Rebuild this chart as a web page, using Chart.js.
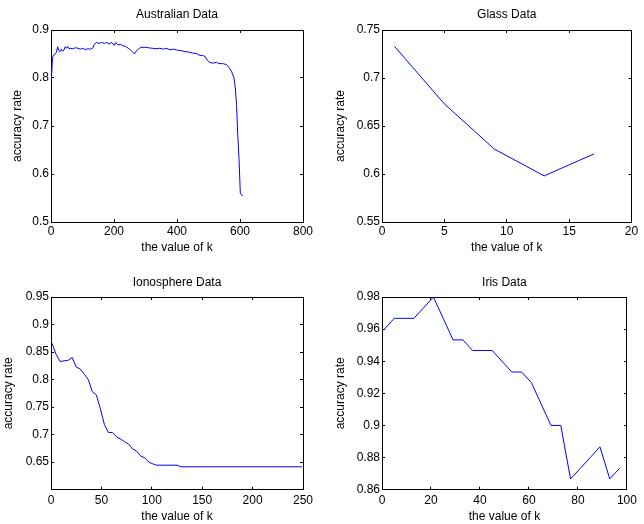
<!DOCTYPE html>
<html>
<head>
<meta charset="utf-8">
<script src="https://cdn.jsdelivr.net/npm/chart.js@4/dist/chart.umd.min.js"></script>
<style>
  html, body { margin: 0; padding: 0; background: #fff; }
  body { position: relative; width: 644px; height: 524px; overflow: hidden; }
  canvas { position: absolute; }
</style>
</head>
<body>
<canvas id="australian" width="322" height="262" style="left:0;top:0"></canvas>
<canvas id="glass" width="322" height="262" style="left:322px;top:0"></canvas>
<canvas id="ionosphere" width="322" height="262" style="left:0;top:262px"></canvas>
<canvas id="iris" width="322" height="262" style="left:322px;top:262px"></canvas>
<script>
// values
const australianK = [1, 5, 9, 13, 17, 21, 25, 29, 33, 37, 41, 45, 49, 53, 57, 61, 69, 77, 85, 93,
  101, 109, 117, 125, 133, 137, 145, 153, 161, 169, 177, 185, 193, 201, 205, 213, 221, 229, 237, 245,
  253, 261, 265, 269, 277, 285, 297, 309, 321, 333, 345, 357, 365, 377, 389, 401, 413, 425, 437, 449,
  461, 473, 481, 489, 497, 505, 517, 525, 533, 545, 557, 565, 573, 581, 585, 589, 593, 597, 601, 605, 609];
const australianAcc = [0.796, 0.843, 0.848, 0.850, 0.853, 0.865, 0.857, 0.855, 0.860, 0.856, 0.858, 0.865, 0.862, 0.866, 0.861, 0.862, 0.861, 0.863, 0.862, 0.860,
  0.862, 0.859, 0.861, 0.860, 0.863, 0.870, 0.874, 0.872, 0.874, 0.872, 0.874, 0.871, 0.874, 0.868, 0.874, 0.869, 0.870, 0.867, 0.866, 0.862,
  0.858, 0.853, 0.850, 0.855, 0.860, 0.864, 0.864, 0.863, 0.862, 0.861, 0.862, 0.860, 0.862, 0.859, 0.860, 0.858, 0.857, 0.855, 0.854, 0.852,
  0.851, 0.847, 0.847, 0.845, 0.836, 0.832, 0.831, 0.833, 0.830, 0.830, 0.828, 0.822, 0.814, 0.800, 0.780, 0.745, 0.680, 0.630, 0.560, 0.556, 0.555];

const glassK = [1, 5, 9, 13, 17];
const glassAcc = [0.733, 0.673, 0.626, 0.598, 0.621];

const ionosphereK = [1, 5, 9, 13, 17, 21, 25, 29, 33, 37, 41, 45, 49, 53, 57, 61, 65, 69, 73, 77,
  81, 85, 89, 93, 97, 101, 105, 109, 113, 117, 121, 125, 129, 133, 137, 141, 145, 149, 153, 157,
  161, 165, 169, 173, 177, 181, 185, 189, 193, 197, 201, 205, 209, 213, 217, 221, 225, 229, 233, 237,
  241, 245, 249];
const ionosphereAcc = [0.866, 0.846, 0.833, 0.834, 0.835, 0.840, 0.823, 0.819, 0.810, 0.800, 0.778, 0.772, 0.747, 0.718, 0.704, 0.704, 0.696, 0.692, 0.687, 0.683,
  0.674, 0.670, 0.661, 0.658, 0.650, 0.647, 0.6445, 0.6445, 0.6445, 0.6445, 0.6445, 0.6445, 0.6416, 0.6416, 0.6416, 0.6416, 0.6416, 0.6416, 0.6416, 0.6416,
  0.6416, 0.6416, 0.6416, 0.6416, 0.6416, 0.6416, 0.6416, 0.6416, 0.6416, 0.6416, 0.6416, 0.6416, 0.6416, 0.6416, 0.6416, 0.6416, 0.6416, 0.6416, 0.6416, 0.6416,
  0.6416, 0.6416, 0.6416];

const irisK = [1, 5, 9, 13, 17, 21, 25, 29, 33, 37, 41, 45, 49, 53, 57, 61, 65, 69, 73, 77, 81, 85, 89, 93, 97];
const irisAcc = [0.960, 0.9667, 0.9667, 0.9667, 0.9733, 0.980, 0.9667, 0.9533, 0.9533, 0.9467, 0.9467, 0.9467, 0.940,
  0.9333, 0.9333, 0.9267, 0.9133, 0.900, 0.900, 0.8667, 0.8733, 0.880, 0.8867, 0.8667, 0.8733];

// tick labels
const australianXTicks = [0, 200, 400, 600, 800];
const australianYTicks = [0.5, 0.6, 0.7, 0.8, 0.9];
const glassXTicks = [0, 5, 10, 15, 20];
const glassYTicks = [0.55, 0.6, 0.65, 0.7, 0.75];
const ionosphereXTicks = [0, 50, 100, 150, 200, 250];
const ionosphereYTicks = [0.65, 0.7, 0.75, 0.8, 0.85, 0.9, 0.95];
const irisXTicks = [0, 20, 40, 60, 80, 100];
const irisYTicks = [0.86, 0.88, 0.9, 0.92, 0.94, 0.96, 0.98];

function makeChart(id, title, ks, acc, xTicks, yTicks, yMin, box) {
  const font = { family: '"Liberation Sans", Arial, Helvetica, sans-serif', size: 12, weight: 'normal' };
  const setTicks = list => scale => { scale.ticks = list.map(v => ({ value: v })); };
  const tickGrid = { display: true, drawOnChartArea: false, drawTicks: true, tickLength: -3, color: '#000', lineWidth: 1 };
  const border = { display: true, color: '#000', width: 1 };
  const xMin = xTicks[0], xMax = xTicks[xTicks.length - 1];
  const yMax = yTicks[yTicks.length - 1];

  return new Chart(document.getElementById(id), {
    type: 'line',
    data: {
      datasets: [{
        data: ks.map((k, i) => ({ x: k, y: acc[i] })),
        borderColor: '#0000ff',
        borderWidth: 1,
        pointRadius: 0,
        tension: 0,
        fill: false
      }]
    },
    options: {
      responsive: false,
      animation: false,
      events: [],
      layout: { padding: { left: 0, top: 0, right: box.right, bottom: 0 } },
      plugins: {
        legend: { display: false },
        tooltip: { enabled: false },
        title: {
          display: true, text: title, color: '#000', font: font, fullSize: false,
          padding: { top: box.titleTop, bottom: box.titleBottom }
        }
      },
      scales: {
        x: {
          type: 'linear', position: 'bottom', min: xMin, max: xMax,
          afterBuildTicks: setTicks(xTicks),
          afterFit: s => { s.height = box.xAxisH; },
          grid: tickGrid, border: border,
          ticks: { color: '#000', font: font, padding: box.xTickPad, maxRotation: 0, autoSkip: false, callback: v => String(v) },
          title: { display: true, text: 'the value of k', color: '#000', font: font, padding: { top: 0, bottom: box.xTitleBottom } }
        },
        y: {
          type: 'linear', position: 'left', min: yMin, max: yMax,
          afterBuildTicks: setTicks(yTicks),
          afterFit: s => { s.width = box.yAxisW; },
          grid: tickGrid, border: border,
          ticks: { color: '#000', font: font, padding: 5, autoSkip: false, callback: v => String(+v.toFixed(2)) },
          title: { display: true, text: 'accuracy rate', color: '#000', font: font, padding: { top: box.yTitleLeft, bottom: 0 } }
        },
        x2: {
          type: 'linear', position: 'top', min: xMin, max: xMax,
          afterBuildTicks: setTicks(xTicks),
          afterFit: s => { s.height = 0; },
          grid: tickGrid, border: border,
          ticks: { display: false }
        },
        y2: {
          type: 'linear', position: 'right', min: yMin, max: yMax,
          afterBuildTicks: setTicks(yTicks),
          afterFit: s => { s.width = 0; },
          grid: tickGrid, border: border,
          ticks: { display: false }
        }
      }
    }
  });
}

const topBox = { titleTop: 7.8, titleBottom: 7.8, xAxisH: 40, xTickPad: 5.8, xTitleBottom: 6.8 };
const bottomBox = { titleTop: 13.5, titleBottom: 7.1, xAxisH: 34.3, xTickPad: 7.1, xTitleBottom: 0 };

makeChart('australian', 'Australian Data', australianK, australianAcc, australianXTicks, australianYTicks, 0.5,
  Object.assign({ right: 19, yAxisW: 51, yTitleLeft: 10.3 }, topBox));
makeChart('glass', 'Glass Data', glassK, glassAcc, glassXTicks, glassYTicks, 0.55,
  Object.assign({ right: 10, yAxisW: 60, yTitleLeft: 11.3 }, topBox));
makeChart('ionosphere', 'Ionosphere Data', ionosphereK, ionosphereAcc, ionosphereXTicks, ionosphereYTicks, 0.6,
  Object.assign({ right: 19, yAxisW: 51, yTitleLeft: 1.8 }, bottomBox));
makeChart('iris', 'Iris Data', irisK, irisAcc, irisXTicks, irisYTicks, 0.86,
  Object.assign({ right: 10, yAxisW: 60, yTitleLeft: 11.5 }, bottomBox));
</script>
</body>
</html>
